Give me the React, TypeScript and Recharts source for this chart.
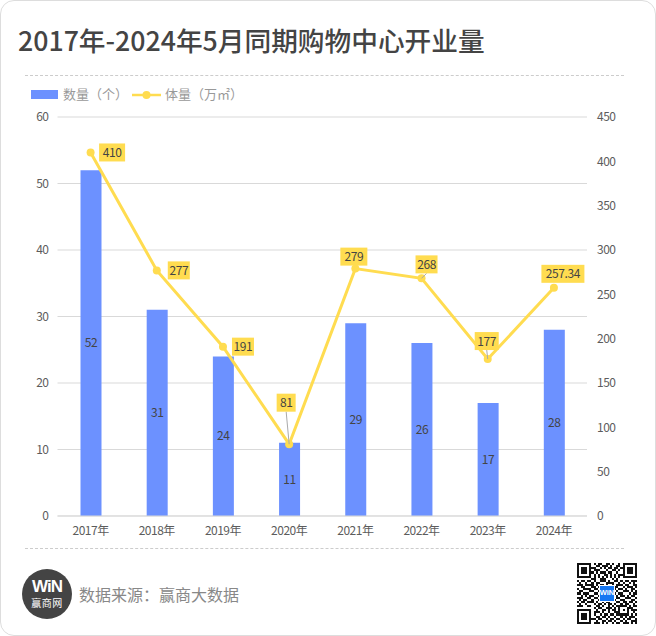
import {
    Bar,
    CartesianGrid,
    ComposedChart,
    LabelList,
    Line,
    XAxis,
    YAxis,
} from 'recharts';

const years = ['2017年', '2018年', '2019年', '2020年', '2021年', '2022年', '2023年', '2024年'];
const counts = [52, 31, 24, 11, 29, 26, 17, 28];
const areas = [410, 277, 191, 81, 279, 268, 177, 257.34];
const countTicks = [0, 10, 20, 30, 40, 50, 60];
const areaTicks = [0, 50, 100, 150, 200, 250, 300, 350, 400, 450];

const chartData = years.map((year, i) => ({year, count: counts[i], area: areas[i]}));

// where each yellow tag sits relative to its point
const tagOffsets = [
    {dx: 21.5, dy: 0, w: 26},
    {dx: 22, dy: 0, w: 22},
    {dx: 20, dy: 0, w: 22},
    {dx: -3, dy: -41.5, w: 19, leader: true},
    {dx: -1.5, dy: -12, w: 27},
    {dx: 5, dy: -14, w: 22, leader: true},
    {dx: -1, dy: -18, w: 24, leader: true},
    {dx: 9, dy: -14, w: 43},
];

// the centre is covered by the logo
const qrRows = [
    '11111110101100110100101111111',
    '10000010011011101001101000001',
    '10111011100101011011011011101',
    '10111010111000100110101011101',
    '10111011010111011001001011101',
    '10000010101001101010111000001',
    '11111110101010101010101111111',
    '00000001100111000101000000000',
    '10110110100111010011010110111',
    '01001001011000111100101001010',
    '11101111010110100101110110011',
    '00110001101001011011001011101',
    '10011110110100100110110100110',
    '01100011001011011001001110101',
    '11011100110100110110110001011',
    '00101011001101001001011010110',
    '11100110110010110101100111001',
    '01011001001101001110011000110',
    '10110111010010110001101101101',
    '01001000101101011010010110010',
    '11100110011010010101111101011',
    '00000000101100111010100011100',
    '11111110010011010110101010111',
    '10000010111010010011100010010',
    '10111010100101101101111110101',
    '10111010011011010010010101110',
    '10111011101100101101101011001',
    '10000010010011011010010100111',
    '11111110111010100101101110101',
];

const FONT = '"Noto Sans CJK SC", "Noto Sans", sans-serif';
const BLUE = '#6c91ff';
const YELLOW = '#ffdc50';
const tickStyle = {fontSize: 12, fill: '#5c5c5c', fontFamily: FONT, letterSpacing: -0.5};

const AreaTag = ({x, y, value, index}: any) => {
    const off: any = tagOffsets[index];
    const cx = x + off.dx;
    const cy = y + off.dy;
    return (
        <g>
            {off.leader && <line x1={cx} y1={cy + 9} x2={x} y2={y} stroke="#aaa" strokeWidth={1}/>}
            <rect x={cx - off.w / 2} y={cy - 9} width={off.w} height={18} fill={YELLOW}/>
            <text x={cx} y={cy + 4.5} textAnchor="middle" fontSize={12} letterSpacing={-0.4} fill="#444" fontFamily={FONT}>{String(value)}</text>
        </g>
    );
};

const Legend = () => (
    <div style={{position: 'absolute', left: 31, top: 85, fontFamily: FONT, fontSize: 13, color: '#999', height: 18, lineHeight: '18px'}}>
        <span style={{position: 'absolute', left: 0, top: 5, width: 27, height: 9, background: BLUE}}/>
        <span style={{position: 'absolute', left: 32, top: 0, whiteSpace: 'nowrap'}}>数量（个）</span>
        <svg width={30} height={10} style={{position: 'absolute', left: 101, top: 5}}>
            <line x1={0} y1={5} x2={29} y2={5} stroke={YELLOW} strokeWidth={2.5}/>
            <circle cx={14.5} cy={5} r={4} fill={YELLOW}/>
        </svg>
        <span style={{position: 'absolute', left: 134, top: 0, whiteSpace: 'nowrap'}}>体量（万㎡）</span>
    </div>
);

const Dashed = ({top}: {top: number}) => (
    <div style={{position: 'absolute', left: 25, width: 599, top, borderTop: '1px dashed #ccc'}}/>
);

const QrCode = () => (
    <svg width={60} height={61} viewBox="0 0 29 29" preserveAspectRatio="none" shapeRendering="crispEdges" style={{position: 'absolute', left: 577, top: 563}}>
        {qrRows.map((row, r) => row.split('').map((c, col) => (
            c === '1' ? <rect key={`${r}-${col}`} x={col} y={r} width={1} height={1} fill="#111"/> : null
        )))}
        <rect x={10.5} y={10.5} width={8} height={8} fill="#fff"/>
        <rect x={11} y={11} width={7} height={7} fill="#1677f2"/>
        <text x={14.5} y={15} textAnchor="middle" fontSize={3.6} fontWeight={700} fill="#fff" fontFamily="Liberation Sans">WiN</text>
    </svg>
);

export default function App() {
    return (
        <div style={{position: 'absolute', left: 0, top: 0, width: 656, height: 636, background: '#fff', overflow: 'hidden', fontFamily: FONT}}>
            <div style={{position: 'absolute', left: 0, top: 0, width: 654, height: 634, border: '1px solid #ddd', borderRadius: 14}}/>
            <div style={{position: 'absolute', left: 18, top: 19, fontSize: 26.7, fontWeight: 500, color: '#444', lineHeight: '42px', whiteSpace: 'nowrap'}}>
                2017年-2024年5月同期购物中心开业量
            </div>
            <Dashed top={75}/>
            <Legend/>
            <div style={{position: 'absolute', left: 0, top: 0}}>
                <ComposedChart
                    width={656}
                    height={636}
                    data={chartData}
                    margin={{top: 117, right: 29, bottom: 90, left: 27.5}}
                >
                    <CartesianGrid vertical={false} stroke="#d9d9d9" yAxisId="left"/>
                    <XAxis dataKey="year" height={30} tickLine={false} axisLine={{stroke: '#d9d9d9'}} tick={tickStyle} tickMargin={4} interval={0}/>
                    <YAxis yAxisId="left" width={30} domain={[0, 60]} ticks={countTicks} tickLine={false} axisLine={false} tick={tickStyle} tickMargin={3}/>
                    <YAxis yAxisId="right" orientation="right" width={40} domain={[0, 450]} ticks={areaTicks} tickLine={false} axisLine={false} tick={tickStyle} tickMargin={4}/>
                    <Bar yAxisId="left" dataKey="count" fill={BLUE} barSize={21} isAnimationActive={false}>
                        <LabelList dataKey="count" position="center" fontSize={12} letterSpacing={-0.4} fill="#444" fontFamily={FONT}/>
                    </Bar>
                    <Line yAxisId="right" dataKey="area" type="linear" stroke={YELLOW} strokeWidth={3} dot={{r: 4, fill: YELLOW, stroke: YELLOW, strokeWidth: 0}} isAnimationActive={false}>
                        <LabelList dataKey="area" content={AreaTag}/>
                    </Line>
                </ComposedChart>
            </div>
            <Dashed top={548}/>
            <div style={{position: 'absolute', left: 22, top: 569, width: 50, height: 50, borderRadius: 25, background: '#444'}}/>
            <div style={{position: 'absolute', left: 22, top: 579, width: 50, textAlign: 'center', color: '#fff', fontFamily: 'Liberation Sans', fontSize: 17, fontWeight: 700, lineHeight: '16px', letterSpacing: -1}}>WiN</div>
            <div style={{position: 'absolute', left: 22, top: 597, width: 50, textAlign: 'center', color: '#fff', fontSize: 10, lineHeight: '11px', letterSpacing: 0.5}}>赢商网</div>
            <div style={{position: 'absolute', left: 79, top: 582, fontSize: 16, color: '#888', lineHeight: '24px'}}>数据来源：赢商大数据</div>
            <QrCode/>
        </div>
    );
}
